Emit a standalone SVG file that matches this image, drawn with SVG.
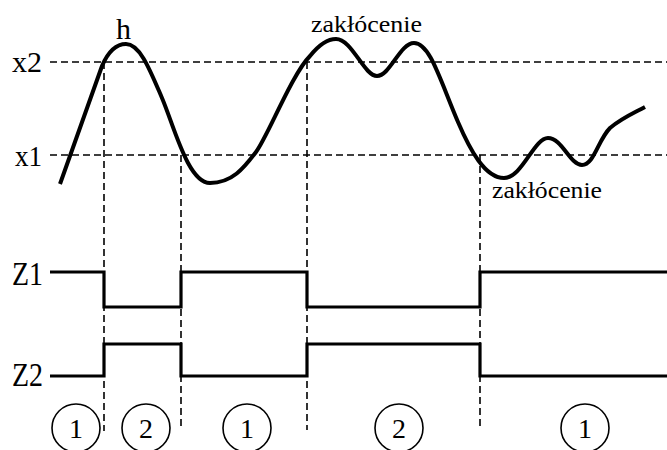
<svg xmlns="http://www.w3.org/2000/svg" width="667" height="450" viewBox="0 0 667 450">
<style>
text{font-family:"Liberation Serif","Times New Roman",serif;fill:#000}
.lbl{font-size:30px}
.note{font-size:24px}
.num{font-size:28px;text-anchor:middle}
.dash{stroke:#000;stroke-width:1.6;fill:none;stroke-dasharray:7 4}
.sig{stroke:#000;stroke-width:3.2;fill:none;stroke-linejoin:miter}
.curve{stroke:#000;stroke-width:4;fill:none;stroke-linecap:butt;stroke-linejoin:round}
.circ{stroke:#000;stroke-width:1.6;fill:none}
</style>
<rect width="667" height="450" fill="#fff"/>
<g id="guides">
<line class="dash" x1="50" y1="62" x2="667" y2="62"/>
<line class="dash" x1="50" y1="155" x2="667" y2="155"/>
<line class="dash" x1="104" y1="62" x2="104" y2="431"/>
<line class="dash" x1="181" y1="155" x2="181" y2="430"/>
<line class="dash" x1="307" y1="62" x2="307" y2="430"/>
<line class="dash" x1="480" y1="155" x2="480" y2="429"/>
</g>
<g id="curve">
<path class="curve" d="M60,184 L102,66 C108,52 116,44 126,44 C140,44 150,70 162,98 C174,126 188,183 210,183 C232,183 244,168 256,152 C268,136 292,74 310,56 C318,46 326,39 336,39 C352,39 364,76 377,76 C390,76 400,43 414,43 C430,43 440,80 458,122 C470,150 485,178 504,178 C522,178 534,138 548,138 C562,138 570,165 582,165 C594,165 598,140 610,128 C622,118 634,113 645,107"/>
</g>
<g id="signals">
<path class="sig" d="M50,272 H104 V307 H181 V272 H307 V307 H480 V272 H667"/>
<path class="sig" d="M50,376 H104 V344 H181 V376 H307 V344 H480 V376 H667"/>
</g>
<g id="labels">
<text class="lbl" x="12" y="72" textLength="30" lengthAdjust="spacingAndGlyphs">x2</text>
<text class="lbl" x="15" y="166" textLength="27" lengthAdjust="spacingAndGlyphs">x1</text>
<text class="lbl" x="116" y="39">h</text>
<text class="lbl" x="12" y="285" transform="translate(0,285) scale(1,1.1) translate(0,-285)" textLength="31" lengthAdjust="spacingAndGlyphs">Z1</text>
<text class="lbl" x="12" y="386" transform="translate(0,386) scale(1,1.1) translate(0,-386)" textLength="31" lengthAdjust="spacingAndGlyphs">Z2</text>
<text class="note" x="311" y="32" textLength="111" lengthAdjust="spacingAndGlyphs">zakłócenie</text>
<text class="note" x="492" y="198" textLength="110" lengthAdjust="spacingAndGlyphs">zakłócenie</text>
</g>
<g id="phase1a"><circle class="circ" cx="76" cy="428" r="24"/><text class="num" x="76" y="438">1</text></g>
<g id="phase2a"><circle class="circ" cx="146" cy="428" r="24"/><text class="num" x="146" y="438">2</text></g>
<g id="phase1b"><circle class="circ" cx="247" cy="428" r="24"/><text class="num" x="247" y="438">1</text></g>
<g id="phase2b"><circle class="circ" cx="399" cy="428" r="24"/><text class="num" x="399" y="438">2</text></g>
<g id="phase1c"><circle class="circ" cx="585" cy="428" r="24"/><text class="num" x="585" y="438">1</text></g>
</svg>
